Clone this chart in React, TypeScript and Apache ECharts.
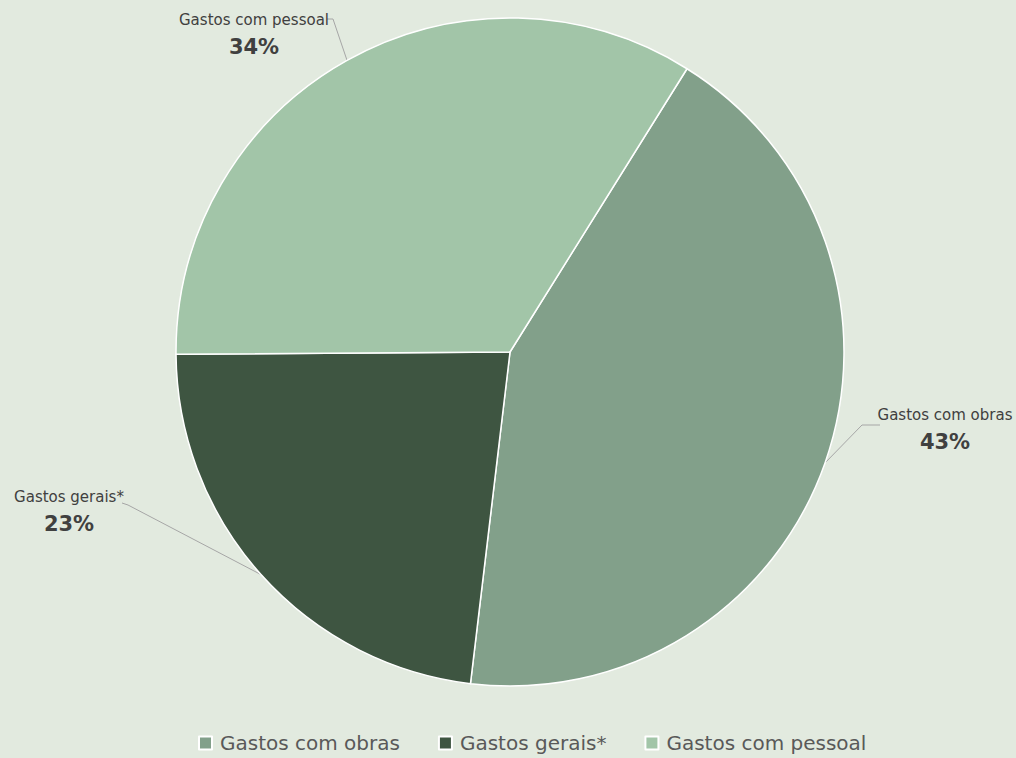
import React, { useEffect, useRef } from "react";
import * as echarts from "echarts";

const categories = ["Gastos com obras", "Gastos gerais*", "Gastos com pessoal"];
const values = [43, 23, 34];
const colors = ["#82A08A", "#3E5541", "#A2C5A8"];

const FONT = "'DejaVu Sans', sans-serif";

// label placement (layout only): label centre and leader-line elbow offsets
const labelPos: { x: number; y: number; elbow: [number, number]; end: [number, number] }[] = [
  { x: 945, y: 430, elbow: [862, 425], end: [880, 425] },
  { x: 69, y: 512, elbow: [128, 505], end: [122, 503] },
  { x: 254, y: 35, elbow: [333, 19], end: [327, 19] },
];

export default function App() {
  const ref = useRef<HTMLDivElement>(null);
  useEffect(() => {
    if (!ref.current) return;
    const chart = echarts.init(ref.current, null, { renderer: "svg" });
    chart.setOption({
      animation: false,
      backgroundColor: "#E2EADF",
      color: colors,
      legend: {
        data: categories,
        top: 728,
        left: 193,
        icon: "rect",
        itemWidth: 13,
        itemHeight: 13,
        itemGap: 38,
        textStyle: {
          fontFamily: FONT,
          fontSize: 20,
          lineHeight: 20,
          color: "#595959",
          padding: [0, 0, 0, 3],
        },
      },
      series: [
        {
          type: "pie",
          center: [510, 352],
          radius: 334,
          startAngle: 58,
          clockwise: true,
          itemStyle: { borderColor: "#FFFFFF", borderWidth: 1.5 },
          label: {
            show: true,
            position: "outside",
            overflow: "none",
            formatter: "{n|{b}}\n{p|{d}%}",
            rich: {
              n: { fontFamily: FONT, fontSize: 15, color: "#404040", lineHeight: 24, align: "center" },
              p: { fontFamily: FONT, fontSize: 21, fontWeight: "bold", color: "#404040", lineHeight: 30, align: "center" },
            },
          },
          labelLine: { show: true, lineStyle: { color: "#A6A6A6", width: 1 } },
          labelLayout: (params: any) => {
            const lp = labelPos[params.dataIndex];
            const start = params.labelLinePoints ? params.labelLinePoints[0] : lp.elbow;
            return {
              x: lp.x,
              y: lp.y,
              align: "center",
              verticalAlign: "middle",
              labelLinePoints: [start, lp.elbow, lp.end],
            };
          },
          data: categories.map((c, i) => ({ name: c, value: values[i] })),
        },
      ],
    });
    return () => chart.dispose();
  }, []);
  return (
    <div
      ref={ref}
      style={{ position: "absolute", left: 0, top: 0, width: 1016, height: 758 }}
    />
  );
}
